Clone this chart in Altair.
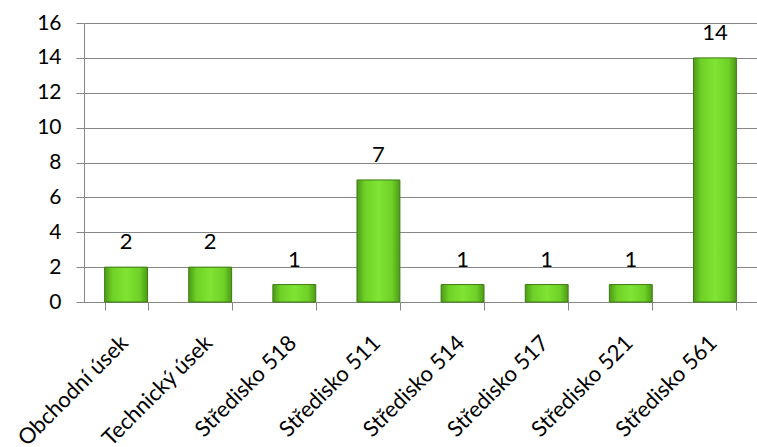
import altair as alt
import pandas as pd

categories = ["Obchodní úsek", "Technický úsek", "Středisko 518", "Středisko 511",
              "Středisko 514", "Středisko 517", "Středisko 521", "Středisko 561"]
values = [2, 2, 1, 7, 1, 1, 1, 14]

df = pd.DataFrame({"cat": categories, "val": values})

FONT = "Lato"

grad = alt.Gradient(
    gradient="linear", x1=0, x2=1, y1=0, y2=0,
    stops=[
        alt.GradientStop(color="#4c9a18", offset=0),
        alt.GradientStop(color="#6fd026", offset=0.18),
        alt.GradientStop(color="#7fe433", offset=0.5),
        alt.GradientStop(color="#6fd026", offset=0.82),
        alt.GradientStop(color="#4c9a18", offset=1),
    ],
)

x = alt.X("cat:N", sort=categories, title=None,
          scale=alt.Scale(paddingInner=0.49, paddingOuter=0.245),
          axis=alt.Axis(labelAngle=-45, labelAlign="right", labelBaseline="middle",
                        labelFont=FONT, labelFontSize=22, labelColor="#000000",
                        labelPadding=29, labelOffset=-2, tickBand="extent", tickSize=8,
                        tickColor="#868686", domainColor="#868686", grid=False,
                        labelLimit=300))
y = alt.Y("val:Q", title=None,
          scale=alt.Scale(domain=[0, 16], nice=False),
          axis=alt.Axis(values=[0, 2, 4, 6, 8, 10, 12, 14, 16], tickSize=8,
                        tickColor="#868686", domainColor="#868686",
                        gridColor="#868686", grid=True, labelFont=FONT,
                        labelFontSize=21, labelColor="#000000", labelPadding=15))

bars = alt.Chart(df).mark_bar(fill=grad, stroke="#3d7d10", strokeWidth=1).encode(x=x, y=y)
text = alt.Chart(df).mark_text(baseline="alphabetic", dy=-18, font=FONT, fontSize=22,
                               color="#000000").encode(x=x, y=y, text="val:Q")

chart = (bars + text).properties(
    width=673, height=279,
    autosize=alt.AutoSizeParams(type="none"),
    padding={"left": 84, "top": 23, "right": 0, "bottom": 145},
).configure_view(stroke=None)

chart.save("out.html", embed_options={"renderer": "svg", "actions": False})
